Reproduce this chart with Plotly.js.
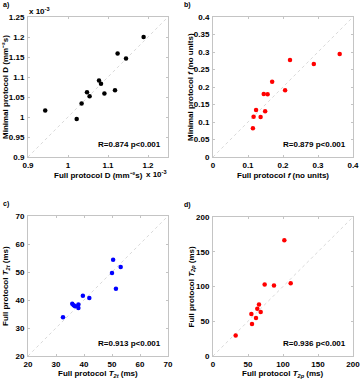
<!DOCTYPE html>
<html>
<head>
<meta charset="utf-8">
<script src="https://cdn.plot.ly/plotly-3.0.1.min.js"></script>
<style>
  html, body { margin: 0; padding: 0; background: #fff; }
  #chart { width: 361px; height: 380px; }
</style>
</head>
<body>
<div id="chart"></div>
<script>
// panel a: diffusion D, values in units of 1e-3 mm^-2 s
let dFull = [1.189, 1.124, 1.145, 1.0775, 1.0825, 1.0475, 1.054, 1.091, 1.1175, 1.034, 1.0217, 0.943];
let dMin  = [1.200, 1.159, 1.146, 1.091, 1.083, 1.062, 1.052, 1.059, 1.067, 1.034, 0.995, 1.016];

// panel b: perfusion fraction f
let fFull = [0.362, 0.288, 0.220, 0.206, 0.169, 0.145, 0.156, 0.123, 0.149, 0.116, 0.136, 0.114];
let fMin  = [0.294, 0.266, 0.277, 0.191, 0.215, 0.180, 0.179, 0.134, 0.131, 0.115, 0.114, 0.082];

// panel c: T2t (ms)
let t2tFull = [50.4, 53.1, 50.0, 51.4, 39.6, 41.9, 35.8, 36.3, 36.8, 38.0, 38.0, 32.5];
let t2tMin  = [54.4, 51.8, 49.6, 44.0, 41.5, 40.7, 38.7, 38.1, 37.8, 38.4, 37.1, 33.8];

// panel d: T2p (ms)
let t2pFull = [101.9, 111.0, 73.8, 87.1, 65.7, 63.3, 68.1, 54.8, 61.4, 55.7, 32.4];
let t2pMin  = [166.5, 104.8, 102.9, 101.4, 74.2, 68.0, 63.2, 60.3, 54.5, 45.9, 29.6];

let ranges = [[0.9, 1.25], [0, 0.4], [20, 70], [0, 200]];
let dticksX = [0.1, 0.1, 10, 50];
let dticksY = [0.05, 0.05, 10, 50];
let stats = ['R=0.874 p<0.001', 'R=0.879 p<0.001', 'R=0.913 p<0.001', 'R=0.936 p<0.001'];
let panelLabels = ['a)', 'b)', 'c)', 'd)'];
let xTitles = [
    'Full protocol D (mm\u207B\u00B2s)',
    'Full protocol <i>f</i> (no units)',
    'Full protocol <i>T<sub>2t</sub></i> (ms)',
    'Full protocol <i>T<sub>2p</sub></i> (ms)'
];
let yTitles = [
    'Minimal protocol D (mm\u207B\u00B2s)',
    'Minimal protocol <i>f</i> (no units)',
    'Full protocol <i>T<sub>2t</sub></i> (ms)',
    'Full protocol <i>T<sub>2p</sub></i> (ms)'
];

let W = 361, H = 380;
// plot boxes in pixels: [left, top, right, bottom]
let boxes = [[28, 17, 168, 157], [213, 17, 353, 157], [28, 216, 168, 356], [213, 217, 353, 356]];
let xs = [dFull, fFull, t2tFull, t2pFull];
let ys = [dMin, fMin, t2tMin, t2pMin];
let colors = ['#000000', '#ff0000', '#0000ff', '#ff0000'];

let font = {family: 'Liberation Sans, Arial, sans-serif', size: 8, color: '#000'};
let bold = s => '<b>' + s + '</b>';

let data = [];
let layout = {
    width: W, height: H,
    margin: {l: 0, r: 0, t: 0, b: 0},
    paper_bgcolor: '#fff', plot_bgcolor: '#fff',
    showlegend: false,
    font: font,
    shapes: [],
    annotations: []
};

for (let i = 0; i < 4; i++) {
    let n = i === 0 ? '' : String(i + 1);
    let b = boxes[i];
    let r = ranges[i];
    data.push({
        type: 'scatter', mode: 'markers',
        x: xs[i], y: ys[i],
        xaxis: 'x' + n, yaxis: 'y' + n,
        marker: {color: colors[i], size: 4.5},
        cliponaxis: false
    });
    let axCommon = {
        showgrid: false, zeroline: false,
        showline: true, linecolor: '#c4c4c4', linewidth: 1, mirror: 'ticks',
        ticks: 'inside', ticklen: 2, tickwidth: 1, tickcolor: '#c4c4c4',
        tickfont: {family: font.family, size: 8, color: '#000', weight: 'bold'},
        range: r, fixedrange: true
    };
    layout['xaxis' + n] = Object.assign({}, axCommon, {
        domain: [b[0] / W, b[2] / W],
        anchor: 'y' + n, dtick: dticksX[i], tick0: r[0]
    });
    layout['yaxis' + n] = Object.assign({}, axCommon, {
        domain: [1 - b[3] / H, 1 - b[1] / H],
        anchor: 'x' + n, dtick: dticksY[i], tick0: r[0], ticklabelstandoff: 1
    });
    // identity line
    layout.shapes.push({
        type: 'line', xref: 'x' + n, yref: 'y' + n,
        x0: r[0], y0: r[0], x1: r[1], y1: r[1],
        line: {color: '#dadada', width: 1, dash: 'dot'}, layer: 'below'
    });
    // axis titles
    layout.annotations.push({
        xref: 'paper', yref: 'paper',
        x: (b[0] + b[2]) / 2 / W, y: 1 - (b[3] + 18) / H,
        xanchor: 'center', yanchor: 'middle', showarrow: false,
        text: bold(xTitles[i]), font: font
    });
    layout.annotations.push({
        xref: 'paper', yref: 'paper',
        x: (b[0] - 22) / W, y: 1 - (b[1] + b[3]) / 2 / H,
        xanchor: 'center', yanchor: 'middle', showarrow: false, textangle: -90,
        text: bold(yTitles[i]), font: font
    });
    // stats text
    layout.annotations.push({
        xref: 'paper', yref: 'paper',
        x: (b[2] - 5) / W, y: 1 - (b[3] - 13) / H,
        xanchor: 'right', yanchor: 'middle', showarrow: false,
        text: bold(stats[i]), font: font
    });
    // panel label
    layout.annotations.push({
        xref: 'paper', yref: 'paper',
        x: (b[0] < 100 ? 1 : 182) / W, y: 1 - (b[1] - 12) / H,
        xanchor: 'left', yanchor: 'middle', showarrow: false,
        text: bold(panelLabels[i]), font: {family: font.family, size: 7, color: '#000'}
    });
}

// exponent marks for panel a
layout.annotations.push({
    xref: 'paper', yref: 'paper', x: 27 / W, y: 1 - 11 / H,
    xanchor: 'left', yanchor: 'middle', showarrow: false,
    text: bold('x 10<sup>-3</sup>'), font: font
});
layout.annotations.push({
    xref: 'paper', yref: 'paper', x: 169 / W, y: 1 - 174 / H,
    xanchor: 'right', yanchor: 'middle', showarrow: false,
    text: bold('x 10<sup>-3</sup>'), font: font
});

Plotly.newPlot('chart', data, layout, {displayModeBar: false, staticPlot: true});
</script>
</body>
</html>
